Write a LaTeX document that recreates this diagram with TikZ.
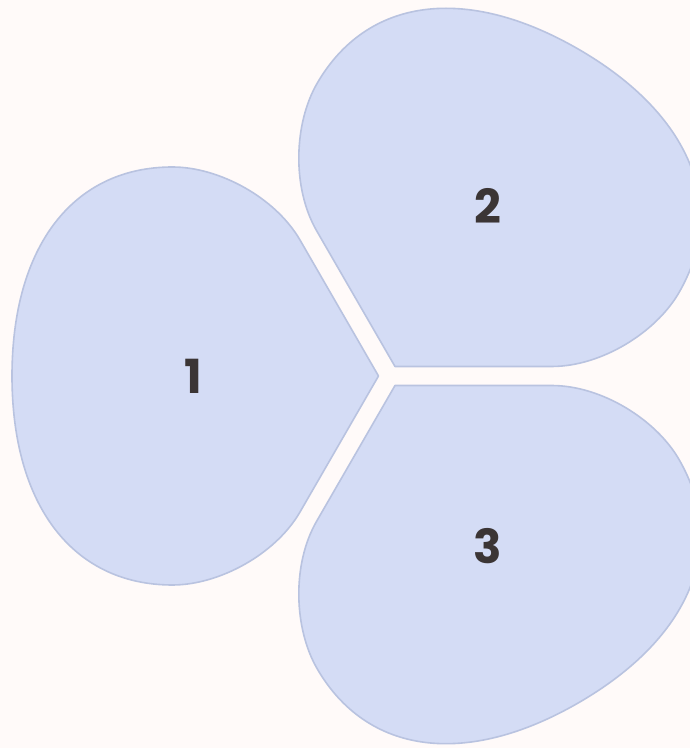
\documentclass[tikz,border=0pt]{standalone}
\usepackage{fontspec}
\usetikzlibrary{calc}
\setmainfont{Poppins}
\definecolor{bgc}{HTML}{FFFAF9}
\definecolor{petalfill}{HTML}{D4DCF5}
\definecolor{petaldraw}{HTML}{B9C3E0}
\definecolor{labc}{HTML}{3B3535}
\tikzset{
  petal/.style={fill=petalfill, draw=petaldraw, line width=1.6pt, line join=round},
  plabel/.style={text=labc, font=\fontsize{47}{47}\selectfont\bfseries, inner sep=0pt}
}
\newcommand{\petalpath}{(0,0) -- (78.5,136) .. controls (103.5,179) and (160,209) .. (206,209) .. controls (305.5,209) and (366.5,129.6) .. (366.5,0) .. controls (366.5,-129.6) and (305.5,-209) .. (206,-209) .. controls (160,-209) and (103.5,-179) .. (78.5,-136) -- cycle}
\begin{document}
\begin{tikzpicture}[x=1pt,y=1pt]
\useasboundingbox (0,0) rectangle (690,748);
\fill[bgc] (0,0) rectangle (690,748);
\clip (0,0) rectangle (690,748);
\coordinate (C) at (389.5,372);
\foreach \ang/\lab in {180/1, 60/2, -60/3} {
  \begin{scope}[shift={($(C)+(\ang:11)$)}, rotate=\ang]
    \draw[petal] \petalpath;
    \node[plabel] (L\lab) at (185,0) {\lab};
  \end{scope}
}
\end{tikzpicture}
\end{document}
